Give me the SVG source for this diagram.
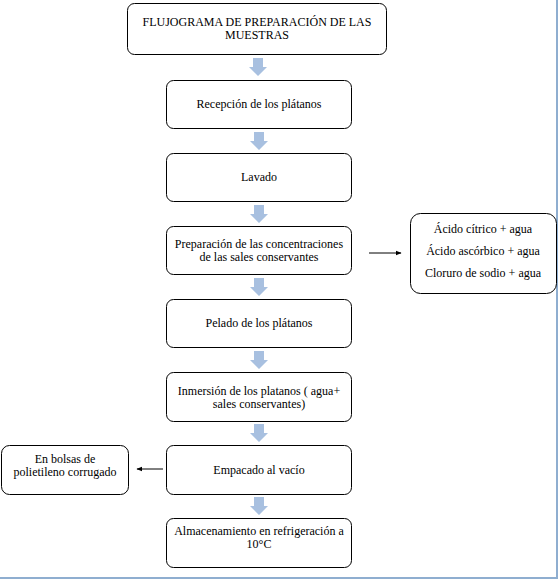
<svg xmlns="http://www.w3.org/2000/svg" width="560" height="583" viewBox="0 0 560 583">
<style>
.box{fill:#fff;stroke:#000;stroke-width:1}
.t{font-family:"Liberation Serif","DejaVu Serif",serif;font-size:12px;fill:#000;text-anchor:middle}
.ba{fill:#a8c0e0}
.ln{stroke:#000;stroke-width:1;fill:none}
</style>
<defs>
<path id="blk" d="M-5,0 H5 V9 H9 L0,18 L-9,9 H-5 Z"/>
<marker id="ah" viewBox="0 0 10 10" refX="9" refY="5" markerWidth="6" markerHeight="6" orient="auto" markerUnits="userSpaceOnUse">
<path d="M0,1 L10,5 L0,9 Z" fill="#000"/>
</marker>
</defs>
<rect x="0" y="0" width="560" height="583" fill="#fff"/>
<g id="frame">
<line x1="557" y1="0" x2="557" y2="579" stroke="#8faed0" stroke-width="2"/>
<line x1="0" y1="578" x2="558" y2="578" stroke="#8faed0" stroke-width="2"/>
</g>
<g id="n_title"><rect class="box" x="127.5" y="3.5" width="259" height="51" rx="7"/>
<text class="t" font-family="Liberation Serif, serif" x="257" y="25.5">FLUJOGRAMA DE PREPARACIÓN DE LAS</text>
<text class="t" font-family="Liberation Serif, serif" x="257" y="38.5">MUESTRAS</text></g>
<g id="n_recepcion"><rect class="box" x="166.5" y="80.5" width="185" height="48" rx="7"/>
<text class="t" font-family="Liberation Serif, serif" x="259" y="108">Recepción de los plátanos</text></g>
<g id="n_lavado"><rect class="box" x="166.5" y="153.5" width="185" height="48" rx="7"/>
<text class="t" font-family="Liberation Serif, serif" x="259" y="181">Lavado</text></g>
<g id="n_preparacion"><rect class="box" x="166.5" y="226.5" width="185" height="48" rx="7"/>
<text class="t" font-family="Liberation Serif, serif" x="259" y="247.5">Preparación de las concentraciones</text>
<text class="t" font-family="Liberation Serif, serif" x="259" y="260.5">de las sales conservantes</text></g>
<g id="n_sales"><rect class="box" x="410.5" y="213.5" width="146" height="80" rx="10"/>
<text class="t" font-family="Liberation Serif, serif" x="483" y="233">Ácido cítrico + agua</text>
<text class="t" font-family="Liberation Serif, serif" x="483" y="255">Ácido ascórbico + agua</text>
<text class="t" font-family="Liberation Serif, serif" x="483" y="277">Cloruro de sodio + agua</text></g>
<g id="n_pelado"><rect class="box" x="166.5" y="299.5" width="185" height="48" rx="7"/>
<text class="t" font-family="Liberation Serif, serif" x="259" y="327">Pelado de los plátanos</text></g>
<g id="n_inmersion"><rect class="box" x="166.5" y="372.5" width="185" height="49" rx="7"/>
<text class="t" font-family="Liberation Serif, serif" x="259" y="394.5">Inmersión de los platanos ( agua+</text>
<text class="t" font-family="Liberation Serif, serif" x="259" y="407.5">sales conservantes)</text></g>
<g id="n_empacado"><rect class="box" x="166.5" y="445.5" width="185" height="49" rx="7"/>
<text class="t" font-family="Liberation Serif, serif" x="259" y="474">Empacado al vacío</text></g>
<g id="n_bolsas"><rect class="box" x="1.5" y="445.5" width="127" height="49" rx="8"/>
<text class="t" font-family="Liberation Serif, serif" x="65" y="463">En bolsas de</text>
<text class="t" font-family="Liberation Serif, serif" x="65" y="476">polietileno corrugado</text></g>
<g id="n_almacen"><rect class="box" x="166.5" y="518.5" width="185" height="49" rx="7"/>
<text class="t" font-family="Liberation Serif, serif" x="259" y="534.5">Almacenamiento en refrigeración a</text>
<text class="t" font-family="Liberation Serif, serif" x="259" y="547.5">10°C</text></g>
<g id="connectors">
<use href="#blk" class="ba" x="258" y="58"/>
<use href="#blk" class="ba" x="259" y="132"/>
<use href="#blk" class="ba" x="259" y="205"/>
<use href="#blk" class="ba" x="259" y="278"/>
<use href="#blk" class="ba" x="259" y="351"/>
<use href="#blk" class="ba" x="259" y="424"/>
<use href="#blk" class="ba" x="259" y="497"/>
<line class="ln" x1="369" y1="253" x2="401" y2="253" marker-end="url(#ah)"/>
<line class="ln" x1="163" y1="469" x2="137" y2="469" marker-end="url(#ah)"/>
</g>
</svg>
